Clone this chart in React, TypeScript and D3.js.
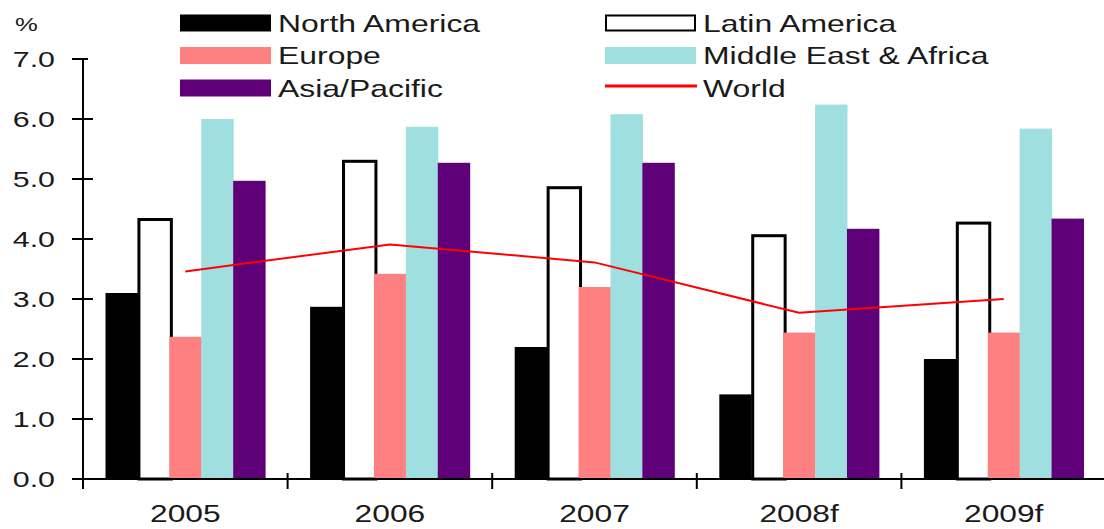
import React from "react";
import * as d3 from "d3";

const years = ["2005", "2006", "2007", "2008f", "2009f"];
const seriesNames = ["North America", "Latin America", "Europe", "Middle East & Africa", "Asia/Pacific"];
const northAmerica = [3.1, 2.87, 2.2, 1.41, 2.0];
const latinAmerica = [4.35, 5.32, 4.88, 4.08, 4.29];
const europe = [2.37, 3.42, 3.2, 2.44, 2.44];
const middleEastAfrica = [6.0, 5.87, 6.08, 6.24, 5.84];
const asiaPacific = [4.97, 5.27, 5.27, 4.17, 4.34];
const world = [3.46, 3.91, 3.61, 2.77, 3.0];
const yTicks = [0, 1, 2, 3, 4, 5, 6, 7];

const W = 1104, H = 529;
const left = 83, right = 1106, y0px = 479, y7px = 59;
const font = "'Liberation Sans', Arial, sans-serif";
const textColor = "#1a1a1a";

const styles: Record<string, { fill: string; stroke?: string }> = {
  "North America": { fill: "#000000" },
  "Latin America": { fill: "#ffffff", stroke: "#000000" },
  "Europe": { fill: "#ff8080" },
  "Middle East & Africa": { fill: "#a0dfdf" },
  "Asia/Pacific": { fill: "#5f0079" },
};

function SText(props: { x: number; y: number; sx: number; size: number; anchor?: string; children: React.ReactNode }) {
  return (
    <text
      transform={`translate(${props.x},${props.y}) scale(${props.sx},1)`}
      textAnchor={props.anchor || "start"}
      fontFamily={font}
      fontSize={props.size}
      fill={textColor}
    >
      {props.children}
    </text>
  );
}

export default function App() {
  const values = [northAmerica, latinAmerica, europe, middleEastAfrica, asiaPacific];
  const x0 = d3.scaleBand<string>().domain(years).range([left, right]).paddingInner(0.22).paddingOuter(0.11);
  const x1 = d3.scaleBand<string>().domain(seriesNames).range([0, x0.bandwidth()]);
  const y = d3.scaleLinear().domain([0, 7]).range([y0px, y7px]);
  const step = x0.step();
  const boundaries = d3.range(years.length + 1).map((i) => left + i * step).filter((v) => v < W);
  const line = d3
    .line<number>()
    .x((_, i) => (x0(years[i]) as number) + x0.bandwidth() / 2)
    .y((d) => y(d));

  const legend = [
    { name: "North America", col: 0, row: 0 },
    { name: "Latin America", col: 1, row: 0 },
    { name: "Europe", col: 0, row: 1 },
    { name: "Middle East & Africa", col: 1, row: 1 },
    { name: "Asia/Pacific", col: 0, row: 2 },
    { name: "World", col: 1, row: 2 },
  ];
  const legX = [180, 605];
  const legTextX = [278, 703];
  const legY = [23, 55.5, 88];

  return (
    <svg width={W} height={H} style={{ display: "block", position: "absolute", left: 0, top: 0, background: "#fff" }}>
      <rect x={0} y={0} width={W} height={H} fill="#fff" />
      {seriesNames.map((s, si) => (
        <g key={s}>
          {years.map((yr, i) => {
            const st = styles[s];
            const bx = (x0(yr) as number) + (x1(s) as number);
            const bw = x1.bandwidth();
            const v = values[si][i];
            if (st.stroke) {
              return (
                <rect key={yr} x={bx + 1.5} y={y(v) + 1.5} width={bw + 0.5} height={y0px - y(v) - 1.5}
                  fill={st.fill} stroke={st.stroke} strokeWidth={3} />
              );
            }
            return <rect key={yr} x={bx} y={y(v)} width={bw + 0.5} height={y0px - y(v)} fill={st.fill} />;
          })}
        </g>
      ))}
      <path d={line(world) || ""} fill="none" stroke="#ff0000" strokeWidth={2} />
      <line x1={left} x2={left} y1={y(7)} y2={y0px} stroke="#000" strokeWidth={2} />
      {yTicks.map((t) => (
        <g key={t}>
          <line x1={72} x2={t === 7 ? 88 : 93} y1={y(t)} y2={y(t)} stroke="#000" strokeWidth={2} />
          <SText x={55} y={y(t) + 8} sx={1.38} size={22} anchor="end">
            {t.toFixed(1)}
          </SText>
        </g>
      ))}
      <SText x={15} y={31} sx={1.35} size={19}>%</SText>
      <line x1={left} x2={W} y1={y0px} y2={y0px} stroke="#000" strokeWidth={2} />
      {boundaries.map((b, i) => (
        <line key={i} x1={b} x2={b} y1={473} y2={489} stroke="#000" strokeWidth={2} />
      ))}
      {years.map((yr) => (
        <SText key={yr} x={(x0(yr) as number) + x0.bandwidth() / 2} y={522} sx={1.38} size={23} anchor="middle">
          {yr}
        </SText>
      ))}
      {legend.map((l) => {
        const lx = legX[l.col];
        const ly = legY[l.row];
        let sw;
        if (l.name === "World") {
          sw = <line x1={lx} x2={lx + 92} y1={ly - 2} y2={ly - 2} stroke="#ff0000" strokeWidth={3} />;
        } else {
          const st = styles[l.name];
          sw = st.stroke ? (
            <rect x={lx + 1} y={ly - 7.5} width={89} height={15} fill="#fff" stroke="#000" strokeWidth={2} />
          ) : (
            <rect x={lx} y={ly - 8.5} width={91} height={17} fill={st.fill} />
          );
        }
        return (
          <g key={l.name}>
            {sw}
            <SText x={legTextX[l.col]} y={ly + 8.5} sx={1.33} size={24}>
              {l.name}
            </SText>
          </g>
        );
      })}
    </svg>
  );
}
